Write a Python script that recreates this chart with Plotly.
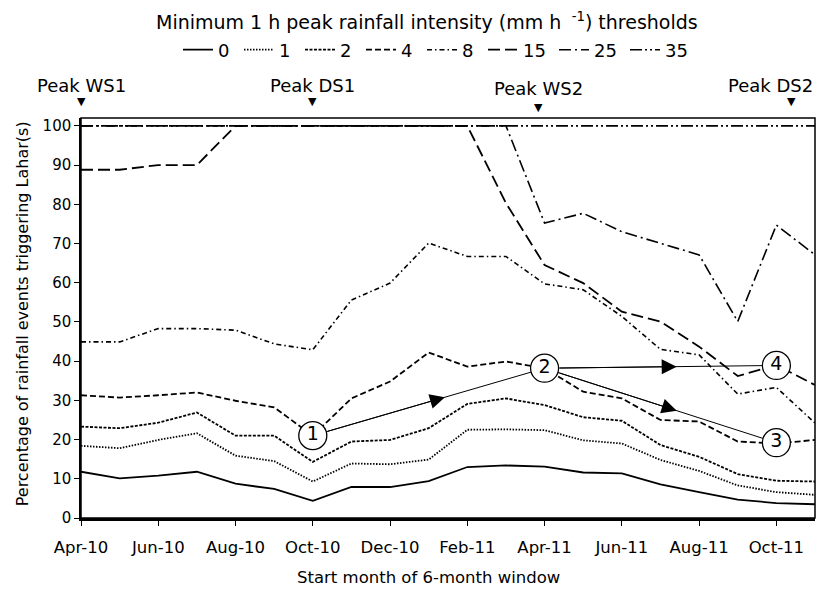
import plotly.graph_objects as go

months = ["Apr-10", "May-10", "Jun-10", "Jul-10", "Aug-10", "Sep-10", "Oct-10", "Nov-10",
          "Dec-10", "Jan-11", "Feb-11", "Mar-11", "Apr-11", "May-11", "Jun-11", "Jul-11",
          "Aug-11", "Sep-11", "Oct-11", "Nov-11"]
x_idx = list(range(len(months)))
tick_idx = x_idx[::2]
tick_labels = months[::2]

thr_0 = [11.8, 10.1, 10.8, 11.8, 8.75, 7.4, 4.4, 7.9, 7.9, 9.4, 13.0, 13.4, 13.1, 11.6, 11.4, 8.6, 6.6, 4.7, 3.8, 3.5]
thr_1 = [18.4, 17.8, 19.9, 21.6, 15.9, 14.5, 9.3, 13.9, 13.7, 14.9, 22.5, 22.6, 22.4, 19.8, 19.0, 14.8, 12.0, 8.3, 6.6, 5.9]
thr_2 = [23.3, 22.9, 24.3, 26.9, 21.0, 21.0, 14.3, 19.5, 19.9, 22.9, 29.1, 30.5, 28.8, 25.7, 24.8, 18.6, 15.6, 11.2, 9.5, 9.3]
thr_4 = [31.3, 30.7, 31.3, 32.0, 29.9, 28.2, 21.0, 30.5, 34.8, 42.2, 38.6, 39.9, 38.2, 32.2, 30.5, 25.0, 24.6, 19.5, 19.0, 19.9]
thr_8 = [44.9, 44.9, 48.3, 48.3, 47.9, 44.4, 42.9, 55.6, 59.9, 70.1, 66.7, 66.7, 59.7, 58.2, 51.4, 43.0, 41.6, 31.6, 33.3, 24.2]
thr_15 = [88.8, 88.8, 90.0, 90.0, 100, 100, 100, 100, 100, 100, 100, 80.3, 64.5, 59.9, 52.6, 50.1, 43.7, 36.2, 39.0, 33.9]
thr_25 = [100, 100, 100, 100, 100, 100, 100, 100, 100, 100, 100, 100, 75.2, 77.7, 73.0, 70.1, 67.1, 50.1, 74.7, 67.1]
thr_35 = [100, 100, 100, 100, 100, 100, 100, 100, 100, 100, 100, 100, 100, 100, 100, 100, 100, 100, 100, 100]

series_names = ["0", "1", "2", "4", "8", "15", "25", "35"]
series_values = [thr_0, thr_1, thr_2, thr_4, thr_8, thr_15, thr_25, thr_35]
dashes = ["solid", "1.5px,1.5px", "3px,1.5px", "6px,3px", "5px,3px,1.5px,3px",
          "12px,5px", "12px,4px,2px,4px", "12px,3px,2px,3px,2px,3px"]
widths = [1.8, 1.8, 1.8, 1.8, 1.6, 1.8, 1.6, 1.6]

peak_labels = ["Peak WS1", "Peak DS1", "Peak WS2", "Peak DS2"]
peak_x = [0, 6, 11.85, 18.4]
peak_low = [False, False, True, False]

circle_labels = ["1", "2", "3", "4"]
circle_x = [6, 12, 18, 18]
circle_y = [21.0, 38.2, 19.2, 38.9]
arrow_pairs = [(0, 1), (1, 2), (1, 3)]
arrow_frac = 0.57

FONT = "DejaVu Sans"

fig = go.Figure()
for name, vals, d, w in zip(series_names, series_values, dashes, widths):
    fig.add_trace(go.Scatter(x=x_idx, y=vals, mode="lines", name=name,
                             legendwidth=16 if len(name) == 1 else 26,
                             line=dict(color="black", width=w, dash=d)))

shapes = []
annotations = []
for a, b in arrow_pairs:
    xa, ya, xb, yb = circle_x[a], circle_y[a], circle_x[b], circle_y[b]
    shapes.append(dict(type="line", xref="x", yref="y", x0=xa, y0=ya, x1=xb, y1=yb,
                       line=dict(color="black", width=1), layer="below"))
    xm = xa + (xb - xa) * arrow_frac
    ym = ya + (yb - ya) * arrow_frac
    annotations.append(dict(x=xm, y=ym, xref="x", yref="y", ax=xa, ay=ya, axref="x", ayref="y",
                            text="", showarrow=True, arrowhead=2, arrowsize=3, arrowwidth=1,
                            arrowcolor="black", startstandoff=14))

fig.add_trace(go.Scatter(x=circle_x, y=circle_y, mode="markers+text", text=circle_labels,
                         textposition="middle center", showlegend=False,
                         marker=dict(size=28, color="white", line=dict(color="black", width=1.3)),
                         textfont=dict(family=FONT, size=19, color="black"), cliponaxis=False))

shapes.append(dict(type="rect", xref="paper", yref="paper", x0=0, y0=0, x1=1, y1=1,
                   line=dict(color="black", width=1.5), layer="above"))

for i, (lab, px, low) in enumerate(zip(peak_labels, peak_x, peak_low)):
    last = i == len(peak_labels) - 1
    ty = 1.073 if low else 1.082
    if last:
        annotations.append(dict(x=1.0, xref="paper", xanchor="right", y=ty, yref="paper",
                                text=lab, showarrow=False,
                                font=dict(family=FONT, size=18, color="black"), yanchor="middle"))
    else:
        annotations.append(dict(x=px, xref="x", y=ty, yref="paper",
                                text=lab, showarrow=False,
                                font=dict(family=FONT, size=18, color="black"), yanchor="middle"))
    annotations.append(dict(x=px, xref="x", y=1.027 if low else 1.04, yref="paper",
                            text="▼", showarrow=False, font=dict(family=FONT, size=11, color="black"),
                            yanchor="middle"))

annotations.append(dict(x=0.472, y=1.243, xref="paper", yref="paper", yanchor="middle",
                        text="Minimum 1 h peak rainfall intensity (mm h <sup> -1</sup>) thresholds",
                        showarrow=False, font=dict(family=FONT, size=19, color="black")))
annotations.append(dict(x=0.473, y=-0.148, xref="paper", yref="paper", yanchor="middle",
                        text="Start month of 6-month window", showarrow=False,
                        font=dict(family=FONT, size=16.5, color="black")))
annotations.append(dict(x=-0.08, y=0.51, xref="paper", yref="paper", textangle=-90,
                        xanchor="center", yanchor="middle",
                        text="Percentage of rainfall events triggering Lahar(s)", showarrow=False,
                        font=dict(family=FONT, size=16, color="black")))

fig.update_layout(
    width=825, height=591,
    margin=dict(l=81, r=10, t=118, b=73),
    paper_bgcolor="white", plot_bgcolor="white",
    font=dict(family=FONT, size=15, color="black"),
    showlegend=True,
    legend=dict(orientation="h", x=0.485, xanchor="center", y=1.17, yanchor="middle",
                font=dict(family=FONT, size=18), itemwidth=30, tracegroupgap=0,
                bgcolor="rgba(0,0,0,0)"),
    shapes=shapes, annotations=annotations,
    xaxis=dict(range=[0, 19], tickvals=tick_idx, ticktext=tick_labels, ticks="outside",
               ticklen=5, tickcolor="black", showline=True, linecolor="black", linewidth=3,
               showgrid=False, zeroline=False, ticklabelstandoff=7, automargin=False,
               tickfont=dict(family=FONT, size=16.5)),
    yaxis=dict(range=[0, 102], tickvals=list(range(0, 101, 10)), ticks="outside", ticklen=5,
               tickcolor="black", showline=True, linecolor="black", linewidth=1.5,
               showgrid=False, zeroline=False, automargin=False,
               tickfont=dict(family=FONT, size=15)),
)

fig.write_html("out.html", config={"displayModeBar": False},
               post_script="document.body.style.margin='0';")
